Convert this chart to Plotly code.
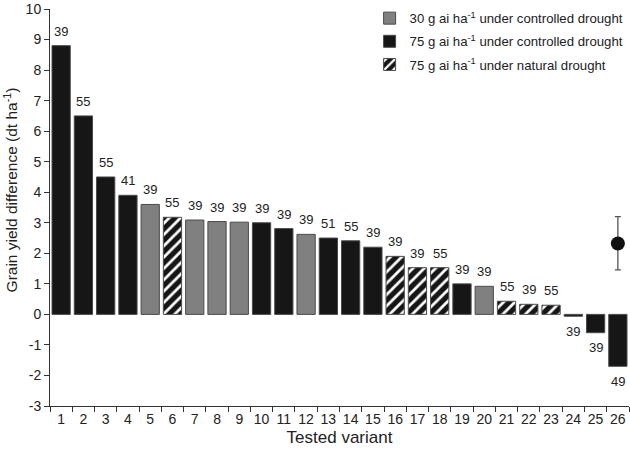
import plotly.graph_objects as go

variants = [str(i) for i in range(1, 27)]
values = [8.8, 6.5, 4.5, 3.9, 3.6, 3.18, 3.09, 3.04, 3.02, 3.0, 2.81, 2.62, 2.5, 2.41,
          2.2, 1.9, 1.53, 1.53, 1.0, 0.92, 0.43, 0.33, 0.3, -0.06, -0.6, -1.7]
labels = [39, 55, 55, 41, 39, 55, 39, 39, 39, 39, 39, 39, 51, 55, 39, 39, 39, 55,
          39, 39, 55, 39, 55, 39, 39, 49]
groups = ["b", "b", "b", "b", "g", "h", "g", "g", "g", "b", "b", "g", "b", "b", "b",
          "h", "h", "h", "b", "g", "h", "h", "h", "b", "b", "b"]
y_ticks = list(range(-3, 11))
mean_value = 2.32
mean_err_plus = 0.88
mean_err_minus = 0.86

group_names = {
    "g": "30 g ai ha<sup>-1</sup> under controlled drought",
    "b": "75 g ai ha<sup>-1</sup> under controlled drought",
    "h": "75 g ai ha<sup>-1</sup> under natural drought",
}
FONT = "Liberation Sans, Arial, Helvetica, sans-serif"

fig = go.Figure()
for g in ["g", "b", "h"]:
    xs = [v for v, gg in zip(variants, groups) if gg == g]
    ys = [y for y, gg in zip(values, groups) if gg == g]
    if g == "g":
        marker = dict(color="#808080", line=dict(color="#4a4a4a", width=1))
    elif g == "b":
        marker = dict(color="#161616", line=dict(color="#4a4a4a", width=1))
    else:
        marker = dict(color="#161616", line=dict(color="#4a4a4a", width=1),
                      pattern=dict(shape="/", bgcolor="#161616", fgcolor="#ffffff",
                                   fgopacity=1, size=8, solidity=0.35))
    fig.add_trace(go.Bar(x=xs, y=ys, name=group_names[g], marker=marker, width=0.82,
                         legendgroup=g))

fig.add_trace(go.Scatter(
    x=[variants[-1]], y=[mean_value], mode="markers", showlegend=False,
    marker=dict(color="#111111", size=14),
    error_y=dict(type="data", symmetric=False, array=[mean_err_plus],
                 arrayminus=[mean_err_minus], color="#555555", thickness=1.3, width=3),
))

for i, (y, lab) in enumerate(zip(values, labels)):
    fig.add_annotation(x=i, y=y, xref="x", yref="y", text=str(lab), showarrow=False,
                       yshift=14.5 if y >= 0 else -15, yanchor="middle",
                       font=dict(size=13, color="#222222", family=FONT))

fig.add_annotation(x=0, y=0.543, xref="paper", yref="paper", xshift=-39,
                   text="Grain yield difference (dt ha<sup>-1</sup>)", textangle=-90,
                   showarrow=False, xanchor="center", yanchor="middle",
                   font=dict(size=15.5, color="#222222", family=FONT))

fig.update_layout(
    width=630, height=453,
    margin=dict(l=50, r=1, t=6, b=47),
    plot_bgcolor="white", paper_bgcolor="white",
    barmode="overlay",
    font=dict(family=FONT, size=14, color="#222222"),
    legend=dict(x=0.552, y=1.015, xanchor="left", yanchor="top",
                font=dict(size=13.2, family=FONT), tracegroupgap=3,
                itemwidth=30, bgcolor="rgba(0,0,0,0)"),
    xaxis=dict(type="category", categoryorder="array", categoryarray=variants,
               range=[-0.5, 25.5], tickson="boundaries", tickangle=0,
               ticks="outside", ticklen=5, tickcolor="#333", showline=True,
               linecolor="#333", linewidth=1, showgrid=False,
               title=dict(text="Tested variant", font=dict(size=17), standoff=5),
               tickfont=dict(size=14)),
    yaxis=dict(range=[-3, 10.001], tickvals=y_ticks, ticktext=[str(t) for t in y_ticks],
               ticks="outside", ticklen=5, tickcolor="#333", showline=True,
               linecolor="#333", linewidth=1, showgrid=False, zeroline=False,
               ticklabeloverflow="allow", tickfont=dict(size=14)),
)

fig.write_html("out.html", config={"displayModeBar": False},
               post_script="document.body.style.margin='0';")
